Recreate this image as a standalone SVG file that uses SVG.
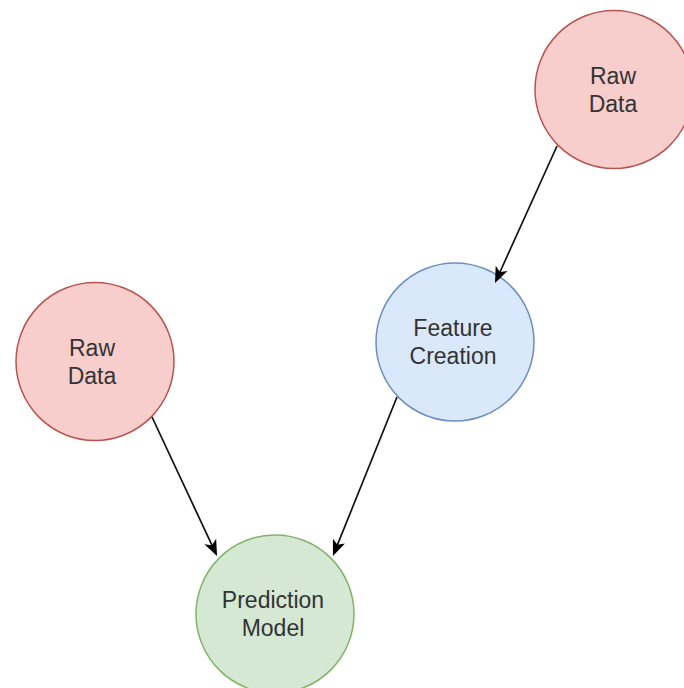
<svg xmlns="http://www.w3.org/2000/svg" width="684" height="688" viewBox="0 0 684 688">
  <style>
    .node { stroke-width: 1.5; }
    .raw { fill: #f8cecc; stroke: #b85450; }
    .feat { fill: #dae8fc; stroke: #6c8ebf; }
    .pred { fill: #d5e8d4; stroke: #82b366; }
    .label { font-family: "Liberation Sans", Arial, sans-serif; font-size: 23px; fill: #333333; text-anchor: middle; }
    .edge { fill: none; stroke: #111111; stroke-width: 1.7; marker-end: url(#arrow); }
  </style>
  <defs>
    <marker id="arrow" markerUnits="userSpaceOnUse" viewBox="0 0 16 16" refX="10" refY="8" markerWidth="16" markerHeight="16" orient="auto">
      <path d="M0,1.5 L16,8 L0,14.5 L4,8 Z" fill="#000000"/>
    </marker>
  </defs>
  <rect width="684" height="688" fill="#ffffff"/>

  <g id="raw-data-top">
    <circle class="node raw" cx="614" cy="89.5" r="79"/>
    <text class="label" x="613" y="83.5">Raw</text>
    <text class="label" x="613" y="111.5">Data</text>
  </g>

  <g id="feature-creation">
    <circle class="node feat" cx="455" cy="342" r="79"/>
    <text class="label" x="453" y="336">Feature</text>
    <text class="label" x="453" y="364">Creation</text>
  </g>

  <g id="raw-data-left">
    <circle class="node raw" cx="95" cy="361.5" r="79"/>
    <text class="label" x="92" y="355.5">Raw</text>
    <text class="label" x="92" y="383.5">Data</text>
  </g>

  <g id="prediction-model">
    <circle class="node pred" cx="275" cy="614" r="79"/>
    <text class="label" x="273" y="608">Prediction</text>
    <text class="label" x="273" y="636">Model</text>
  </g>

  <!-- connectors drawn last so the arrowheads sit over the circle borders -->
  <g id="edges">
    <path class="edge" d="M557,146 L497.5,277.5"/>
    <path class="edge" d="M397,397 L335.2,550.4"/>
    <path class="edge" d="M152,417 L214.5,550.6"/>
  </g>
</svg>
